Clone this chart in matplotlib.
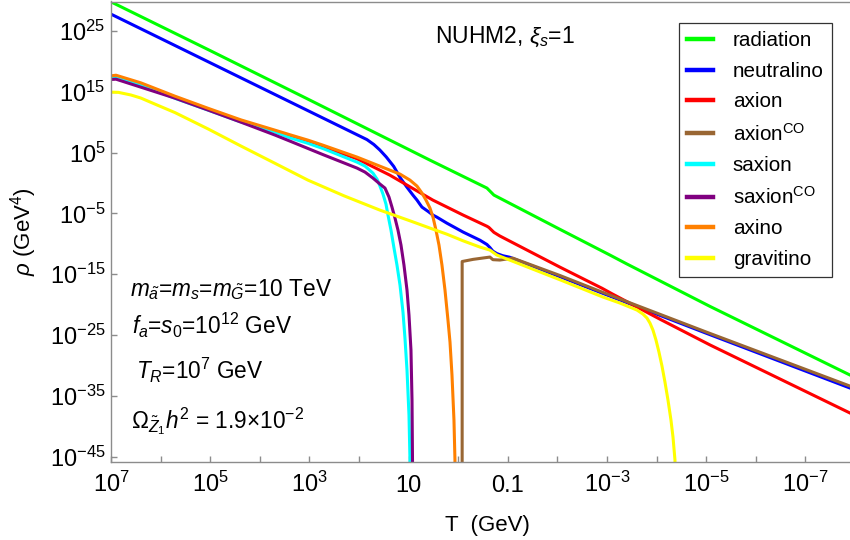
import numpy as np
import matplotlib
matplotlib.use('Agg')
import matplotlib.pyplot as plt
from matplotlib.ticker import NullFormatter

plt.rcParams['font.family'] = ['Liberation Sans', 'DejaVu Sans']
plt.rcParams['mathtext.fontset'] = 'custom'
plt.rcParams['mathtext.rm'] = 'Liberation Sans'
plt.rcParams['mathtext.it'] = 'Liberation Sans:italic'
plt.rcParams['mathtext.bf'] = 'Liberation Sans:bold'

# curves as (log10 T, log10 rho)
rad_lt = [7.0, 5.0, 3.05, 0.57, -0.58, -0.72, -2.05, -2.86, -3.06, -3.4, -5.08, -7.90]
rad_lr = [29.82, 21.8, 13.9, 3.78, -0.82, -1.97, -7.6, -11.0, -11.84, -13.3, -20.3, -31.58]

neu_lt = [7.0, 1.84, 1.70, 1.58, 1.45, 1.30, 1.17, 1.04, 0.91, 0.83, 0.77, 0.73, 0.60,
          0.51, 0.43, 0.23, -0.10, -0.44, -0.58, -0.64, -0.70, -0.78, -0.90, -1.04,
          -1.45, -2.05, -3.0, -5.0, -7.90]
neu_lr = [27.8, 7.16, 6.35, 5.45, 4.3, 2.75, 0.9, -0.6, -2.0, -2.8, -3.5, -3.95, -4.7,
          -5.26, -5.6, -6.58, -8.06, -9.4, -10.1, -10.6, -11.2, -11.6, -11.95, -12.2,
          -13.5, -15.4, -18.4, -24.7, -33.72]

axn_lt = [7.0, 6.9, 6.4, 5.71, 5.04, 4.38, 3.69, 3.37, 3.03, 2.73, 2.04, 1.38, 0.51, -0.10,
          -0.58, -0.62, -0.72, -0.84, -2.05, -2.90, -3.10, -4.07, -5.08, -7.90]
axn_lr = [17.5, 17.6, 16.3, 14.1, 12.1, 10.2, 8.5, 7.7, 6.85, 6.0, 4.0, 1.32, -2.80, -5.26,
          -7.1, -7.3, -8.1, -8.7, -13.82, -17.3, -18.2, -22.4, -26.64, -37.83]

aco_lt = [-0.08, -0.08, -0.30, -0.64, -0.70, -0.84, -1.10, -2.05, -3.0, -5.0, -7.90]
aco_lr = [-60.0, -12.9, -12.55, -12.17, -12.6, -12.66, -12.34, -15.2, -18.25, -24.5, -33.4]

sax_lt = [7.0, 6.9, 6.4, 5.71, 5.04, 4.38, 3.69, 3.39, 3.03, 2.73, 2.04, 1.879, 1.718,
          1.637, 1.577, 1.516, 1.456, 1.415, 1.355, 1.294, 1.234, 1.173, 1.113, 1.073,
          1.032, 0.992, 0.972, 0.965]
sax_lr = [17.35, 17.45, 16.2, 13.95, 12.0, 10.05, 8.4, 7.45, 6.55, 5.7, 3.45, 2.80, 1.64,
          0.66, -0.49, -1.81, -3.45, -5.26, -7.73, -10.69, -13.49, -16.78, -21.22, -25.49,
          -30.76, -38.16, -45.56, -60.0]

sco_lt = [7.0, 6.9, 6.4, 5.71, 5.04, 4.38, 3.69, 3.39, 3.03, 2.73, 2.04, 1.879, 1.718,
          1.577, 1.476, 1.395, 1.335, 1.274, 1.214, 1.153, 1.093, 1.032, 0.992, 0.952,
          0.931, 0.921, 0.918]
sco_lr = [17.05, 17.1, 15.79, 13.98, 12.01, 10.03, 7.89, 6.9, 5.7, 4.7, 2.47, 1.81, 0.82,
          -0.16, -0.82, -2.30, -3.95, -5.76, -7.73, -10.20, -13.49, -17.60, -21.71, -27.47,
          -35.69, -45.56, -60.0]

axo_lt = [7.0, 6.9, 6.4, 5.71, 5.04, 4.38, 3.69, 3.37, 3.03, 2.73, 2.04, 1.38, 1.173,
          0.972, 0.831, 0.730, 0.649, 0.569, 0.508, 0.448, 0.387, 0.327, 0.266, 0.206,
          0.165, 0.125, 0.085, 0.065, 0.06]
axo_lr = [17.65, 17.75, 16.5, 14.3, 12.3, 10.4, 8.7, 7.9, 7.07, 6.25, 4.28, 2.14, 1.48,
          0.49, -0.49, -1.64, -2.80, -4.11, -5.59, -7.73, -10.20, -13.49, -17.60, -22.53,
          -26.15, -31.58, -38.98, -45.56, -60.0]

grv_lt = [7.0, 6.85, 6.6, 6.4, 6.1, 5.71, 5.04, 4.38, 3.69, 3.03, 2.3, 1.58, 0.94, 0.57,
          0.23, -0.10, -0.44, -0.64, -0.78, -2.05, -2.919, -3.262, -3.605, -3.726, -3.806,
          -3.867, -3.927, -3.988, -4.048, -4.109, -4.169, -4.230, -4.290, -4.331, -4.371,
          -4.38]
grv_lr = [14.97, 14.93, 14.5, 14.0, 12.95, 11.6, 8.9, 6.1, 3.24, 0.49, -2.1, -4.44, -6.3,
          -7.4, -8.4, -9.5, -10.53, -11.02, -11.84, -15.9, -18.75, -19.74, -20.89, -21.55,
          -22.20, -23.03, -24.18, -25.82, -27.80, -30.10, -32.73, -35.69, -38.98, -41.78,
          -45.56, -60.0]

names = ['radiation', 'neutralino', 'axion', r'axion$^{\rm CO}$', 'saxion',
         r'saxion$^{\rm CO}$', 'axino', 'gravitino']
colors = ['#00ff00', '#0000ff', '#ff0000', '#996633', '#00ffff', '#800080', '#ff8000', '#ffff00']
curves = [(rad_lt, rad_lr), (neu_lt, neu_lr), (axn_lt, axn_lr), (aco_lt, aco_lr),
          (sax_lt, sax_lr), (sco_lt, sco_lr), (axo_lt, axo_lr), (grv_lt, grv_lr)]

xticks = [1e7, 1e5, 1e3, 10, 0.1, 1e-3, 1e-5, 1e-7]
xticklabels = [r'$10^{7}$', r'$10^{5}$', r'$10^{3}$', '10', '0.1',
               r'$10^{-3}$', r'$10^{-5}$', r'$10^{-7}$']
xminor = [1e6, 1e4, 1e2, 1, 1e-2, 1e-4, 1e-6]
yticks = [1e25, 1e15, 1e5, 1e-5, 1e-15, 1e-25, 1e-35, 1e-45]
yticklabels = [r'$10^{25}$', r'$10^{15}$', r'$10^{5}$', r'$10^{-5}$', r'$10^{-15}$',
               r'$10^{-25}$', r'$10^{-35}$', r'$10^{-45}$']

fig = plt.figure(figsize=(8.5, 5.4), dpi=100)
ax = fig.add_axes([111 / 850, 1 - 461.7 / 540, 739 / 850, 460.2 / 540])

for (lt, lr), c, n in zip(curves, colors, names):
    ax.plot(10 ** np.array(lt), 10 ** np.array(lr), color=c, lw=2.2, label=n,
            solid_joinstyle='round')

ax.set_xscale('log')
ax.set_yscale('log')
ax.set_xlim(1e7, 10 ** -7.9)
ax.set_ylim(10 ** -45.84, 10 ** 29.88)

ax.set_xticks(xticks)
ax.set_xticklabels(xticklabels)
ax.set_xticks(xminor, minor=True)
ax.xaxis.set_minor_formatter(NullFormatter())
ax.set_yticks(yticks)
ax.set_yticklabels(yticklabels)
ax.set_yticks([], minor=True)

gray = '#8c8c8c'
for s in ['left', 'bottom', 'top']:
    ax.spines[s].set_color(gray)
    ax.spines[s].set_linewidth(1.0)
ax.spines['right'].set_visible(False)
ax.tick_params(which='both', direction='in', color=gray, labelsize=17, width=1.0)
ax.tick_params(which='both', length=4)
ax.tick_params(axis='x', pad=22)
ax.tick_params(axis='y', pad=4)
for lbl in ax.get_xticklabels():
    lbl.set_verticalalignment('baseline')

ax.set_xlabel('T  (GeV)', fontsize=16)
ax.xaxis.set_label_coords(0.509, -0.116)
ax.set_ylabel(r'$\rho$ (GeV$^4$)', fontsize=16)
ax.yaxis.set_label_coords(-0.098, 0.5)

leg = ax.legend(loc='upper right', bbox_to_anchor=(0.9756, 0.953), fontsize=14.9,
                frameon=True, fancybox=False, framealpha=1, edgecolor='#333333',
                handlelength=1.25, handletextpad=0.95, handleheight=0.7,
                labelspacing=0.55, borderpad=0.4, borderaxespad=0)
leg.get_frame().set_linewidth(0.9)
for ln in leg.get_lines():
    ln.set_linewidth(3.2)

ax.text(0.533, 0.9237, r'NUHM2, $\xi_s$=1', transform=ax.transAxes, fontsize=16.5,
        ha='center', va='center')

ax.text(0.0257, 0.3598, r'$m_{\tilde{a}}$=$m_s$=$m_{\tilde{G}}$=10 TeV',
        transform=ax.transAxes, fontsize=16.3, va='baseline')
ax.text(0.0284, 0.2772, r'$f_a$=$s_0$=10$^{12}$ GeV',
        transform=ax.transAxes, fontsize=16.3, va='baseline')
ax.text(0.0338, 0.1797, r'$T_R$=10$^{7}$ GeV',
        transform=ax.transAxes, fontsize=16.3, va='baseline')
ax.text(0.027, 0.0732, r'$\Omega_{\tilde{Z}_1} h^2$ = 1.9$\times$10$^{-2}$',
        transform=ax.transAxes, fontsize=16.3, va='baseline')

fig.savefig('out.png', dpi=100)
